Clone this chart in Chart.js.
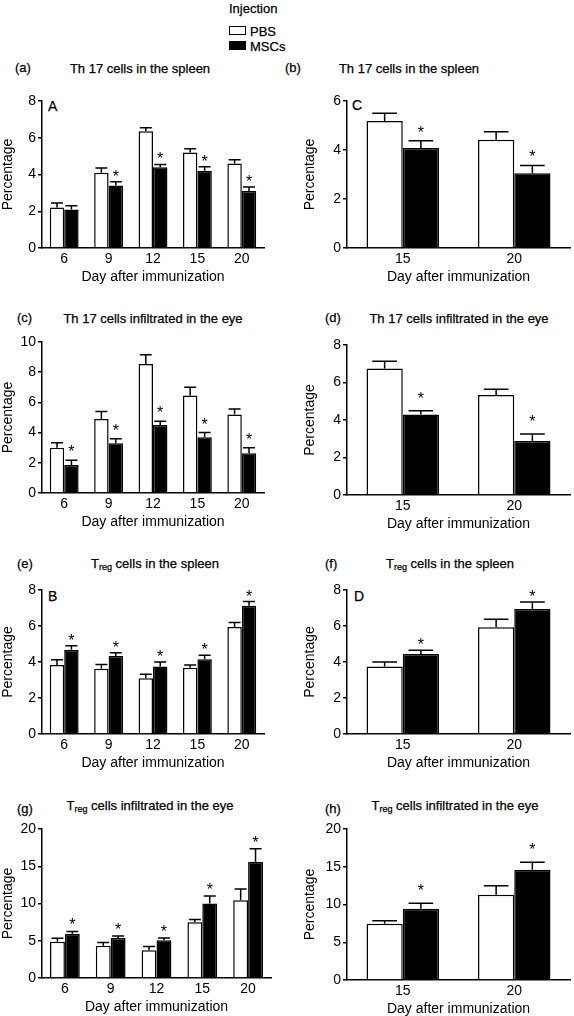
<!DOCTYPE html>
<html>
<head>
<meta charset="utf-8">
<script src="https://cdn.jsdelivr.net/npm/chart.js@4.4.0/dist/chart.umd.min.js"></script>
<style>
  body { margin: 0; background: #fff; width: 574px; height: 1016px; position: relative; overflow: hidden;
         font-family: 'Liberation Sans', Arial, sans-serif; color: #000; }
  .t { position: absolute; font-size: 13px; line-height: 13px; white-space: nowrap; -webkit-text-stroke: 0.25px #000; }
  .c { transform: translateX(-50%); }
  .t sub { font-size: 9px; vertical-align: -2px; line-height: 0; }
  .box { position: absolute; width: 15px; height: 7px; border: 1.5px solid #000; }
  canvas { position: absolute; }
</style>
</head>
<body>
<!-- legend -->
<div class="t" style="left:229px; top:2px;">Injection</div>
<div class="box" style="left:229px; top:26px; background:#fff;"></div>
<div class="t" style="left:250px; top:25px;">PBS</div>
<div class="box" style="left:229px; top:41px; background:#000;"></div>
<div class="t" style="left:250px; top:40px;">MSCs</div>

<!-- panel titles -->
<div class="t" style="left:15px; top:61px;">(a)</div>
<div class="t c" style="left:140px; top:62px;">Th 17 cells in the spleen</div>
<div class="t" style="left:285px; top:61px;">(b)</div>
<div class="t c" style="left:409px; top:62px;">Th 17 cells in the spleen</div>
<div class="t" style="left:17px; top:311px;">(c)</div>
<div class="t c" style="left:153px; top:312px;">Th 17 cells infiltrated in the eye</div>
<div class="t" style="left:325px; top:311px;">(d)</div>
<div class="t c" style="left:459px; top:312px;">Th 17 cells infiltrated in the eye</div>
<div class="t" style="left:17px; top:557px;">(e)</div>
<div class="t c" style="left:155px; top:557px;">T<sub>reg</sub> cells in the spleen</div>
<div class="t" style="left:325px; top:557px;">(f)</div>
<div class="t c" style="left:450px; top:557px;">T<sub>reg</sub> cells in the spleen</div>
<div class="t" style="left:17px; top:802px;">(g)</div>
<div class="t c" style="left:150px; top:799px;">T<sub>reg</sub> cells infiltrated in the eye</div>
<div class="t" style="left:325px; top:802px;">(h)</div>
<div class="t c" style="left:455px; top:799px;">T<sub>reg</sub> cells infiltrated in the eye</div>

<!-- inner letters -->
<div class="t" style="left:48px; top:100px; font-size:14px;">A</div>
<div class="t" style="left:352px; top:99px; font-size:14px;">C</div>
<div class="t" style="left:48px; top:590px; font-size:14px;">B</div>
<div class="t" style="left:354px; top:590px; font-size:14px;">D</div>

<script>
const daysAll = ['6', '9', '12', '15', '20'];
const daysLate = ['15', '20'];

// (a) Th17 cells in the spleen
const th17SpleenPBS = [2.2, 4.1, 6.35, 5.2, 4.6];
const th17SpleenPBSErr = [0.25, 0.25, 0.2, 0.2, 0.2];
const th17SpleenMSC = [2.1, 3.4, 4.4, 4.2, 3.1];
const th17SpleenMSCErr = [0.2, 0.2, 0.15, 0.22, 0.22];
const th17SpleenSig = [false, true, true, true, true];

// (b) Th17 cells in the spleen, day 15/20
const th17SpleenLatePBS = [5.18, 4.42];
const th17SpleenLatePBSErr = [0.32, 0.32];
const th17SpleenLateMSC = [4.08, 3.05];
const th17SpleenLateMSCErr = [0.3, 0.32];
const th17SpleenLateSig = [true, true];

// (c) Th17 cells infiltrated in the eye
const th17EyePBS = [3.0, 4.9, 8.55, 6.45, 5.2];
const th17EyePBSErr = [0.33, 0.5, 0.6, 0.55, 0.37];
const th17EyeMSC = [1.85, 3.3, 4.5, 3.7, 2.63];
const th17EyeMSCErr = [0.32, 0.3, 0.25, 0.3, 0.37];
const th17EyeSig = [true, true, true, true, true];

// (d) Th17 cells infiltrated in the eye, day 15/20
const th17EyeLatePBS = [6.75, 5.34];
const th17EyeLatePBSErr = [0.38, 0.3];
const th17EyeLateMSC = [4.3, 2.88];
const th17EyeLateMSCErr = [0.2, 0.37];
const th17EyeLateSig = [true, true];

// (e) Treg cells in the spleen
const tregSpleenPBS = [3.83, 3.62, 3.1, 3.68, 5.95];
const tregSpleenPBSErr = [0.3, 0.24, 0.22, 0.15, 0.25];
const tregSpleenMSC = [4.68, 4.33, 3.75, 4.15, 7.12];
const tregSpleenMSCErr = [0.22, 0.18, 0.25, 0.23, 0.24];
const tregSpleenSig = [true, true, true, true, true];

// (f) Treg cells in the spleen, day 15/20
const tregSpleenLatePBS = [3.75, 5.93];
const tregSpleenLatePBSErr = [0.25, 0.45];
const tregSpleenLateMSC = [4.45, 6.95];
const tregSpleenLateMSCErr = [0.2, 0.38];
const tregSpleenLateSig = [true, true];

// (g) Treg cells infiltrated in the eye
const tregEyePBS = [4.85, 4.32, 3.74, 7.5, 10.45];
const tregEyePBSErr = [0.5, 0.45, 0.5, 0.35, 1.5];
const tregEyeMSC = [5.95, 5.37, 5.07, 10.0, 15.6];
const tregEyeMSCErr = [0.3, 0.27, 0.3, 1.0, 1.75];
const tregEyeSig = [true, true, true, true, true];

// (h) Treg cells infiltrated in the eye, day 15/20
const tregEyeLatePBS = [7.44, 11.3];
const tregEyeLatePBSErr = [0.4, 1.2];
const tregEyeLateMSC = [9.45, 14.6];
const tregEyeLateMSCErr = [0.7, 1.0];
const tregEyeLateSig = [true, true];

const FONT = "'Liberation Sans', Arial, sans-serif";
Chart.defaults.font.family = FONT;
Chart.defaults.font.size = 13;
Chart.defaults.color = '#000';

// draws the upward whisker + cap and the significance star
const errorBars = {
  id: 'errorBars',
  afterDatasetsDraw(chart, args, opts) {
    const ctx = chart.ctx;
    const yScale = chart.scales.y;
    ctx.save();
    ctx.strokeStyle = '#000';
    ctx.lineWidth = 1.5;
    ctx.font = '16px ' + FONT;
    ctx.fillStyle = '#000';
    ctx.textAlign = 'center';
    ctx.textBaseline = 'alphabetic';
    const m = ctx.measureText('*');
    const starShift = (m.actualBoundingBoxAscent - m.actualBoundingBoxDescent) / 2;
    chart.data.datasets.forEach((ds, i) => {
      const meta = chart.getDatasetMeta(i);
      meta.data.forEach((bar, j) => {
        const top = yScale.getPixelForValue(ds.data[j] + ds.errors[j]);
        const half = Math.max(6, bar.width * 0.34);
        ctx.beginPath();
        ctx.moveTo(bar.x, bar.y);
        ctx.lineTo(bar.x, top);
        ctx.moveTo(bar.x - half, top);
        ctx.lineTo(bar.x + half, top);
        ctx.stroke();
        if (ds.sig && ds.sig[j]) {
          ctx.fillText('*', bar.x, top - opts.starGap + starShift);
        }
      });
    });
    ctx.restore();
  }
};

const panels = [
  { days: daysAll, pbs: th17SpleenPBS, pbsErr: th17SpleenPBSErr, msc: th17SpleenMSC, mscErr: th17SpleenMSCErr, sig: th17SpleenSig,
    yMax: 8, step: 2, left: 0, width: 287, plotLeft: 42, plotRight: 264, plotTop: 101, plotBottom: 248, starGap: 9, yTitlePad: 0 },
  { days: daysLate, pbs: th17SpleenLatePBS, pbsErr: th17SpleenLatePBSErr, msc: th17SpleenLateMSC, mscErr: th17SpleenLateMSCErr, sig: th17SpleenLateSig,
    yMax: 6, step: 2, left: 290, width: 284, plotLeft: 347, plotRight: 570, plotTop: 101, plotBottom: 248, starGap: 12, yTitlePad: 12 },
  { days: daysAll, pbs: th17EyePBS, pbsErr: th17EyePBSErr, msc: th17EyeMSC, mscErr: th17EyeMSCErr, sig: th17EyeSig,
    yMax: 10, step: 2, left: 0, width: 287, plotLeft: 42, plotRight: 264, plotTop: 342, plotBottom: 493, starGap: 12, yTitlePad: 0 },
  { days: daysLate, pbs: th17EyeLatePBS, pbsErr: th17EyeLatePBSErr, msc: th17EyeLateMSC, mscErr: th17EyeLateMSCErr, sig: th17EyeLateSig,
    yMax: 8, step: 2, left: 290, width: 284, plotLeft: 347, plotRight: 570, plotTop: 345, plotBottom: 495, starGap: 16, yTitlePad: 12 },
  { days: daysAll, pbs: tregSpleenPBS, pbsErr: tregSpleenPBSErr, msc: tregSpleenMSC, mscErr: tregSpleenMSCErr, sig: tregSpleenSig,
    yMax: 8, step: 2, left: 0, width: 287, plotLeft: 42, plotRight: 264, plotTop: 590, plotBottom: 734, starGap: 9, yTitlePad: 0 },
  { days: daysLate, pbs: tregSpleenLatePBS, pbsErr: tregSpleenLatePBSErr, msc: tregSpleenLateMSC, mscErr: tregSpleenLateMSCErr, sig: tregSpleenLateSig,
    yMax: 8, step: 2, left: 290, width: 284, plotLeft: 347, plotRight: 570, plotTop: 590, plotBottom: 734, starGap: 9, yTitlePad: 12 },
  { days: daysAll, pbs: tregEyePBS, pbsErr: tregEyePBSErr, msc: tregEyeMSC, mscErr: tregEyeMSCErr, sig: tregEyeSig,
    yMax: 20, step: 5, left: 0, width: 287, plotLeft: 42, plotRight: 271, plotTop: 829, plotBottom: 978, starGap: 10, yTitlePad: 0 },
  { days: daysLate, pbs: tregEyeLatePBS, pbsErr: tregEyeLatePBSErr, msc: tregEyeLateMSC, mscErr: tregEyeLateMSCErr, sig: tregEyeLateSig,
    yMax: 20, step: 5, left: 290, width: 284, plotLeft: 347, plotRight: 570, plotTop: 829, plotBottom: 980, starGap: 16, yTitlePad: 12 },
];

panels.forEach((p) => {
  const top = p.plotTop - 12;
  const height = p.plotBottom + 38 - top;
  const canvas = document.createElement('canvas');
  canvas.width = p.width;
  canvas.height = height;
  canvas.style.left = p.left + 'px';
  canvas.style.top = top + 'px';
  document.body.appendChild(canvas);

  new Chart(canvas, {
    type: 'bar',
    data: {
      labels: p.days,
      datasets: [
        { label: 'PBS', data: p.pbs, errors: p.pbsErr, backgroundColor: '#fff', borderColor: '#000', borderWidth: 1.5 },
        { label: 'MSCs', data: p.msc, errors: p.mscErr, sig: p.sig, backgroundColor: '#000', borderColor: '#000', borderWidth: 1.5 },
      ],
    },
    options: {
      responsive: false,
      animation: false,
      categoryPercentage: 0.65,
      barPercentage: 1.0,
      layout: { padding: { top: 12, left: 0, bottom: 0, right: p.left + p.width - p.plotRight } },
      plugins: {
        legend: { display: false },
        tooltip: { enabled: false },
        errorBars: { starGap: p.starGap },
      },
      scales: {
        x: {
          grid: { display: false, drawTicks: false },
          border: { display: true, color: '#000', width: 1.5 },
          ticks: { padding: 3, font: { size: 14 } },
          title: { display: true, text: 'Day after immunization', padding: { top: 0, bottom: 0 }, font: { size: 14 } },
          afterFit(scale) { scale.height = 38; },
        },
        y: {
          min: 0,
          max: p.yMax,
          ticks: { stepSize: p.step, padding: 2, font: { size: 14 } },
          grid: { drawOnChartArea: false, drawTicks: true, tickLength: 4, color: '#000', lineWidth: 1.5 },
          border: { display: true, color: '#000', width: 1.5 },
          title: { display: true, text: 'Percentage', padding: { top: p.yTitlePad, bottom: 0 }, font: { size: 14 } },
          afterFit(scale) { scale.width = p.plotLeft - p.left; },
        },
      },
    },
    plugins: [errorBars],
  });
});
</script>
</body>
</html>
